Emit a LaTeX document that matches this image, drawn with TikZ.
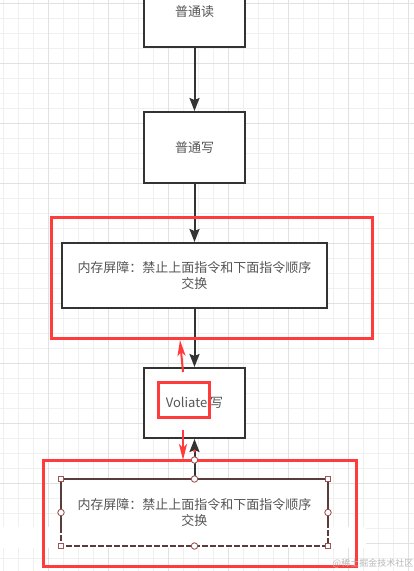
\documentclass[tikz,border=0pt]{standalone}
\usepackage{fontspec}
\setmainfont{Noto Sans CJK SC}
\usetikzlibrary{arrows.meta, positioning}
\definecolor{gridminor}{HTML}{F0F0F0}
\definecolor{gridmajor}{HTML}{E1E1E1}
\definecolor{boxline}{HTML}{333333}
\definecolor{txt}{HTML}{555555}
\definecolor{hilite}{HTML}{FF3B3B}
\definecolor{selline}{HTML}{5A3C3C}
\definecolor{handle}{HTML}{A05555}
\tikzset{>=Stealth}
\tikzset{
  stepbox/.style = {draw = boxline, line width = 2pt, fill = white, text = txt,
                    font = \fontsize{13}{16}\selectfont, align = center, inner sep = 0pt},
  flow/.style = {draw = boxline, line width = 2pt, -{Stealth[width = 10pt, length = 13pt, inset = 2pt]}},
  hiframe/.style = {draw = hilite, line width = 3pt},
  hiarrow/.style = {draw = hilite, line width = 2pt, -{Stealth[width = 8pt, length = 16pt, inset = 4pt]}},
  cornerhandle/.style = {draw = handle, fill = white, line width = 0.9pt, minimum size = 5.5pt, inner sep = 0pt},
  midhandle/.style = {draw = handle, fill = white, line width = 0.9pt, circle, minimum size = 6.5pt, inner sep = 0pt}
}

\begin{document}
\begin{tikzpicture}[x = 1pt, y = -1pt]
    \useasboundingbox (0,0) rectangle (414,571);
    \clip (0,0) rectangle (414,571);
    % grid
    \foreach \gx in {3,18,...,413} \draw[gridminor, line width = 0.8pt] (\gx,0) -- (\gx,571);
    \foreach \gy in {3,18,...,570} \draw[gridminor, line width = 0.8pt] (0,\gy) -- (414,\gy);
    \foreach \gx in {48,108,...,413} \draw[gridmajor, line width = 0.8pt] (\gx,0) -- (\gx,571);
    \foreach \gy in {3,63,...,570} \draw[gridmajor, line width = 0.8pt] (0,\gy) -- (414,\gy);
    \fill[white] (0,527) rectangle (366,548);

    % steps
    \node[stepbox, minimum width = 101, minimum height = 71] (read) at (194.5,11.5) {普通读};
    \node[stepbox, minimum width = 101, minimum height = 71] (write) at (194.5,147.5) {普通写};
    \node[stepbox, minimum width = 265, minimum height = 65] (barrierA) at (194.5,275.5)
        {内存屏障：禁止上面指令和下面指令顺序\\交换};
    \node[stepbox, minimum width = 101, minimum height = 70] (vwrite) at (194.5,403) {Voliate 写};
    \node[stepbox, draw = none, minimum width = 265, minimum height = 65] (barrierB) at (194.5,512.5)
        {内存屏障：禁止上面指令和下面指令顺序\\交换};
    \draw[selline, line width = 1.8pt] (barrierB.south west |- 0,527) -- (barrierB.north west)
        -- (barrierB.north east) -- (barrierB.south east |- 0,527);
    \draw[selline, line width = 1.8pt, dash pattern = on 6pt off 2pt] (barrierB.south west |- 0,527)
        -- (barrierB.south west) -- (barrierB.south east) -- (barrierB.south east |- 0,527);

    % connectors
    \draw[flow] (read) -- (write);
    \draw[flow] (write) -- (barrierA);
    \draw[flow] (barrierA) -- (vwrite);
    \draw[flow] (barrierB) -- (vwrite);

    % highlights
    \draw[hiframe] (51,217) rectangle (372,338);
    \draw[hiframe] (43,460) rectangle (356,566);
    \draw[hiframe] (158,382) rectangle (209,417);
    \coordinate (upTail) at (183,372);
    \coordinate (upTip) at (180,340);
    \coordinate (downTail) at (183,430);
    \coordinate (downTip) at (183,460);
    \draw[hiarrow] (upTail) -- (upTip);
    \draw[hiarrow] (downTail) -- (downTip);

    % selection handles
    \foreach \c in {north west, north east, south west, south east}
        \node[cornerhandle] at (barrierB.\c) {};
    \foreach \c in {north, south, west, east}
        \node[midhandle] at (barrierB.\c) {};
    \node[midhandle] at (194.5,460) {};
    \fill[hilite] (194.5,451) circle (1.7);

    \node[text = gray!55, font = \fontsize{9}{10}\selectfont] (mark) at (373,563) {@稀土掘金技术社区};
\end{tikzpicture}
\end{document}
